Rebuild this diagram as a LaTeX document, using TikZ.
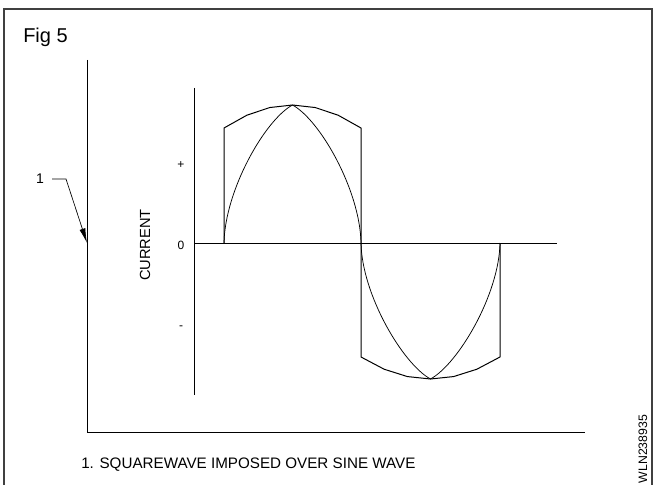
\documentclass[tikz,border=0pt]{standalone}
\usepackage{fontspec}
\setmainfont{Liberation Sans}
\usetikzlibrary{arrows.meta}

\begin{document}
\begin{tikzpicture}[
  x=0.75pt, y=-0.75pt,
  frame/.style={line width=0.8pt, draw=black!75},
  axis/.style={line width=0.7pt},
  wave/.style={line width=0.75pt, line join=round},
  sine/.style={line width=0.55pt},
  lbl/.style={font=\fontsize{9}{11}\selectfont, inner sep=0pt},
  leader/.style={line width=0.5pt, -{Latex[length=11pt,width=4.5pt]}}
]
  \useasboundingbox (0,0) rectangle (653,485);
  \draw[frame] (4,486) -- (4,9) -- (652,9) -- (652,486);
  \node[lbl, anchor=base west, font=\fontsize{15}{18}\selectfont] (fig) at (23,43) {Fig 5};

  \draw[axis] (87,60) -- (87,432) -- (585,432);
  \draw[axis] (194,88) -- (194,395);
  \draw[axis] (194,243) -- (557,243);

  \draw[sine] (224,243) .. controls (225,190) and (265,120) .. (292.5,105)
    .. controls (320,120) and (360,190) .. (361,243)
    .. controls (362,295) and (403,364) .. (430.5,379)
    .. controls (458,364) and (499,295) .. (500,243);
  \draw[wave] (224,243) -- (224,128)
    -- plot[domain=-1:1, samples=7] ({292.5+68.5*\x}, {105+23*(\x)*(\x)})
    -- (361,357)
    -- plot[domain=-1:1, samples=7] ({430.5+69.5*\x}, {379-22*(\x)*(\x)})
    -- (500,243);

  \node[lbl, font=\fontsize{10.5}{12}\selectfont] (one) at (40,179) {1};
  \coordinate (kink) at (66,179);
  \coordinate (hit) at (87,243);
  \draw[leader] ([xshift=6pt]one.east) -- (kink) -- (hit);

  \node[lbl] (plus) at (181,165) {+};
  \node[lbl] (zero) at (181,245) {0};
  \node[lbl] (minus) at (181,328) {-};
  \node[lbl, rotate=90, font=\fontsize{11}{13}\selectfont] (current) at (145,245) {CURRENT};

  \node[lbl, anchor=base west, font=\fontsize{11.4}{13}\selectfont] (caption) at (81,468) {1. SQUAREWAVE IMPOSED OVER SINE WAVE};
  \node[lbl, rotate=90, font=\fontsize{9.2}{11}\selectfont] (code) at (643,449) {WLN238935};
\end{tikzpicture}
\end{document}
